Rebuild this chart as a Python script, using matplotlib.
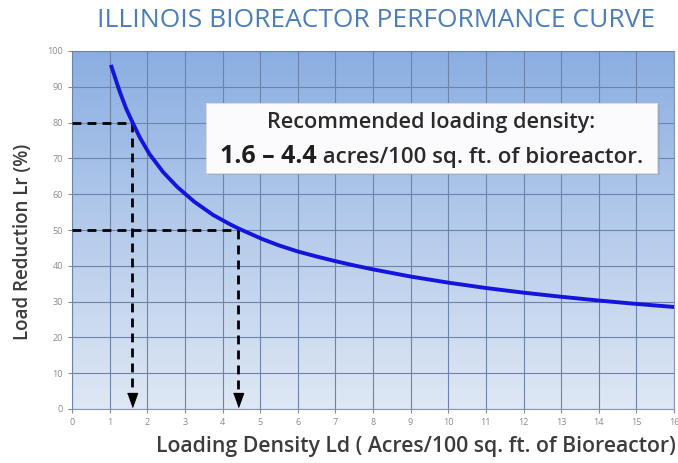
import numpy as np
import matplotlib
matplotlib.use("Agg")
import matplotlib.pyplot as plt
from matplotlib.colors import LinearSegmentedColormap
from matplotlib.patches import Rectangle

# values
density = [1.05, 1.27, 1.44, 1.62, 1.8, 2.06, 2.42, 2.8, 3.25, 3.75, 4.2,
           4.45, 5.05, 5.5, 6, 6.5, 7, 7.5, 8, 9, 10, 11, 12, 13, 14, 15, 16]
reduction = [95.6, 88.6, 83.9, 79.8, 75.9, 71.2, 66.2, 62.0, 57.9, 54.2, 51.6,
             50.3, 47.5, 45.7, 44.0, 42.6, 41.3, 40.1, 39.0, 37.0, 35.3, 33.8,
             32.5, 31.35, 30.3, 29.35, 28.5]

# recommended range markers (density, reduction)
marks_x = [1.6, 4.4]
marks_y = [80, 50]

x_ticks = list(range(0, 17))
y_ticks = list(range(0, 101, 10))

title = "ILLINOIS BIOREACTOR PERFORMANCE CURVE"
xlabel = "Loading Density Ld ( Acres/100 sq. ft. of Bioreactor)"
ylabel = "Load Reduction Lr (%)"
note_top = "Recommended loading density:"
note_bold = "1.6 \u2013 4.4"
note_rest = " acres/100 sq. ft. of bioreactor."

plt.rcParams['font.family'] = ['Open Sans', 'DejaVu Sans']

fig = plt.figure(figsize=(6.78, 4.63), dpi=100)
fig.patch.set_facecolor("white")
ax = fig.add_axes([72 / 678, 1 - 409 / 463, 602 / 678, 358 / 463])

# gradient background
cmap = LinearSegmentedColormap.from_list("bg", ["#dfe8f4", "#8baee2"])
grad = np.linspace(0, 1, 256).reshape(-1, 1)
ax.imshow(grad, extent=[0, 16, 0, 100], origin="lower", aspect="auto",
          cmap=cmap, zorder=0)

ax.set_xlim(0, 16)
ax.set_ylim(0, 100)
ax.set_xticks(x_ticks)
ax.set_yticks(y_ticks)
ax.grid(True, color="#6d84aa", linewidth=0.8, zorder=1)
ax.set_axisbelow(False)
ax.tick_params(labelsize=6.5, colors="#8a8a8a", length=3, width=0.8)
for s in ax.spines.values():
    s.set_color("#8797b0")
    s.set_linewidth(0.8)

# dashed guide lines with arrows
arrow = [(-0.36, 0.5), (0.36, 0.5), (0, -0.5)]
for mx, my in zip(marks_x, marks_y):
    ax.plot([0, mx], [my, my], color="black", lw=2, dashes=(3.2, 2.2), zorder=3)
    ax.plot([mx, mx], [my, 5], color="black", lw=2, dashes=(3.2, 2.2), zorder=3)
    ax.plot([mx], [2.6], marker=arrow, color="black", markersize=10, zorder=3)

ax.plot(density, reduction, color="#1414dc", lw=2.8, zorder=4,
        solid_joinstyle="round")

# note box with shadow
ax.add_patch(Rectangle((3.62, 65.4), 12.0, 19.6, facecolor="#9aa3b3",
                       edgecolor="none", zorder=5, alpha=0.6))
ax.add_patch(Rectangle((3.55, 65.9), 12.0, 19.6, facecolor="#fbfbfd",
                       edgecolor="#d8dde6", lw=0.6, zorder=6))
box_cx = 3.55 + 6.0
ax.text(box_cx, 78.4, note_top, ha="center", va="baseline", fontsize=15.6,
        color="#2a2a2a", fontweight="semibold", zorder=7)
t1 = ax.text(0, 68.6, note_bold, ha="left", va="baseline", fontsize=18,
             fontweight="bold", color="#1e1e1e", zorder=7)
t2 = ax.text(0, 68.6, note_rest, ha="left", va="baseline", fontsize=16,
             color="#2a2a2a", fontweight="semibold", zorder=7)
fig.canvas.draw()
r = fig.canvas.get_renderer()
inv = ax.transData.inverted()
e1 = t1.get_window_extent(r)
e2 = t2.get_window_extent(r)
total = e1.width + e2.width
cx_px = ax.transData.transform((box_cx, 0))[0]
x0 = cx_px - total / 2
t1.set_x(inv.transform((x0, 0))[0])
t2.set_x(inv.transform((x0 + e1.width, 0))[0])

fig.text(0.555, 0.955, title, ha="center", va="center", fontsize=19,
         color="#4a7dba")
fig.text(0.034, 0.477, ylabel, ha="center", va="center", rotation=90,
         fontsize=13.5, color="#3c3c3c", fontweight="semibold")
fig.text(0.997, 0.035, xlabel, ha="right", va="center", fontsize=15.3,
         color="#3c3c3c", fontweight="semibold")

fig.savefig("out.png", dpi=100)
